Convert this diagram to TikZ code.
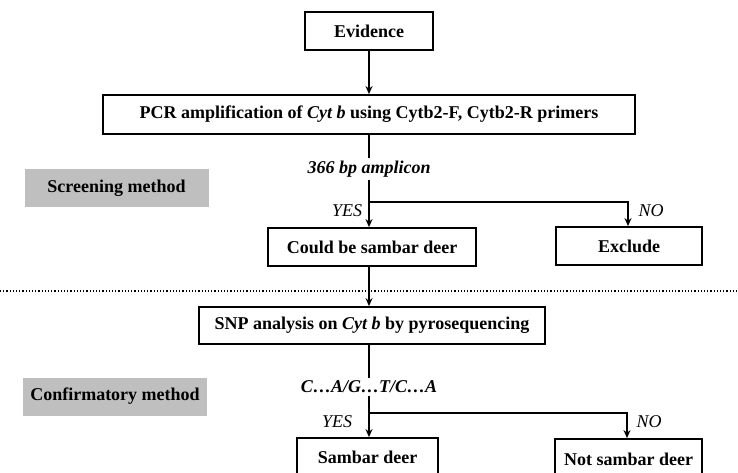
\documentclass[tikz,border=0pt]{standalone}
\usepackage{fontspec}
\setmainfont{Liberation Serif}
\usetikzlibrary{arrows.meta,positioning}

\begin{document}
\begin{tikzpicture}
		[
			x=1pt, y=-1pt,
			font=\fontsize{18}{21}\selectfont\bfseries,
			box/.style={draw, line width=1.8pt, inner sep=0pt, fill=white},
			method/.style={fill=black!25, inner sep=0pt, minimum width=184, minimum height=38},
			label/.style={draw=none, fill=none, inner sep=3pt},
			answer/.style={draw=none, fill=none, font=\fontsize{18}{21}\selectfont\itshape},
			line/.style={line width=1.8pt},
			arrow/.style={line width=1.8pt, -{Stealth[length=8pt,width=7pt]}}
		]
		\useasboundingbox (0,0) rectangle (738,472);

		% boxes
		\node[box, minimum width=128, minimum height=38]	(ev)	at ( 369, 31 )	{Evidence};
		\node[box, minimum width=532, minimum height=39]	(pcr)	at ( 369, 114.5 )	{PCR amplification of \textit{Cyt b} using Cytb2-F, Cytb2-R primers};
		\node[box, minimum width=208, minimum height=38]	(could)	at ( 372, 247 )	{Could be sambar deer};
		\node[box, minimum width=146, minimum height=38]	(excl)	at ( 629, 246 )	{Exclude};
		\node[box, minimum width=346, minimum height=37]	(snp)	at ( 372, 325.5 )	{SNP analysis on \textit{Cyt b} by pyrosequencing};
		\node[box, minimum width=141, minimum height=38]	(deer)	at ( 367.5, 457 )	{Sambar deer};
		\node[box, minimum width=147, minimum height=40]	(notdeer)	at ( 628.5, 459 )	{Not sambar deer};

		% methods
		\node[method] (screen)	at ( 116.5, 188 )	{Screening method};
		\node[method] (confirm)	at ( 115, 396.5 )	{Confirmatory method};

		% result labels
		\node[label] (amp)	at ( 369, 169 )	{\itshape 366 bp amplicon};
		\node[label] (seq)	at ( 369, 387 )	{\itshape C\ldots A/G\ldots T/C\ldots A};
		\node[answer] (yes1)	at ( 347, 211 )	{YES};
		\node[answer] (no1)		at ( 651, 211 )	{NO};
		\node[answer] (yes2)	at ( 337, 422 )	{YES};
		\node[answer] (no2)		at ( 649, 422 )	{NO};

		% branch points
		\coordinate (br1) at ( 369, 202 );
		\coordinate (br2) at ( 369, 413 );
		\coordinate (dl) at ( 0, 291 );
		\coordinate (dr) at ( 738, 291 );

		% connectors
		\draw[arrow] (ev) -- (ev |- pcr.north);
		\draw[line] (pcr.south -| amp) -- (amp);
		\draw[arrow] (amp) -- (amp |- could.north);
		\draw[arrow] (br1) -| (excl.north -| 628,0);
		\draw[arrow] (could.south -| amp) -- (amp |- snp.north);
		\draw[line] (snp.south -| seq) -- (seq);
		\draw[arrow] (seq) -- (seq |- deer.north);
		\draw[arrow] (br2) -| (notdeer.north -| 627,0);

		% divider
		\draw[line width=1.2pt, dash pattern=on 1.2pt off 2pt] (dl) -- (dr);

	\end{tikzpicture}
\end{document}
